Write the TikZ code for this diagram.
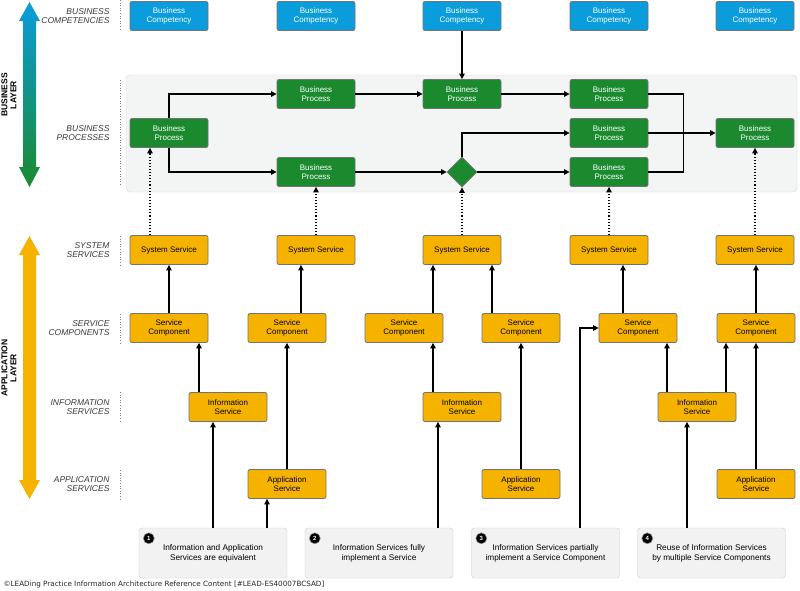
\documentclass[tikz,border=0pt]{standalone}
\usepackage{fontspec}
\setmainfont{Liberation Sans}
\newfontfamily\creditfont{DejaVu Sans}
\usetikzlibrary{arrows.meta,shapes.geometric}
\definecolor{compblue}{HTML}{0A9CDB}
\definecolor{procgreen}{HTML}{1B8A2F}
\definecolor{appyellow}{HTML}{F5B300}
\definecolor{panelgray}{HTML}{F3F4F4}
\definecolor{labelgray}{HTML}{3A3A3A}
\tikzset{
 box/.style={rectangle, rounded corners=2pt, draw=black!55, line width=0.8pt,
   minimum width=78pt, minimum height=29pt, inner sep=1pt, align=center,
   font=\fontsize{8}{9.5}\selectfont},
 compbox/.style={box, fill=compblue, text=white},
 procbox/.style={box, fill=procgreen, text=white},
 appbox/.style={box, fill=appyellow, text=black},
 gateway/.style={diamond, draw=black!55, line width=0.8pt, fill=procgreen,
   minimum width=30pt, minimum height=30pt, inner sep=0pt},
 note/.style={rectangle, rounded corners=3pt, draw=black!20, fill=black!5,
   minimum width=148pt, minimum height=50pt, align=center,
   font=\fontsize{8.25}{10}\selectfont},
 badge/.style={circle, fill=black, draw=black!40, line width=0.5pt, text=white,
   font=\bfseries\fontsize{6}{6}\selectfont, inner sep=0pt, minimum size=11pt},
 link/.style={line width=1.1pt, -{Triangle[length=5.5pt,width=5.5pt]}},
 dotlink/.style={link, dotted},
 rowlabel/.style={anchor=east, align=right, text=labelgray,
   font=\itshape\fontsize{8.5}{9.5}\selectfont},
 sep/.style={dotted, black!50, line width=0.6pt},
 layerlabel/.style={rotate=90, align=center, font=\bfseries\fontsize{8.5}{9}\selectfont}
}
\begin{document}
\begin{tikzpicture}[x=1pt,y=-1pt]
\fill[white] (0,0) rectangle (800,590);
\useasboundingbox (0,0) rectangle (800,590);
% layer arrows
\shade[top color=compblue, bottom color=procgreen] (29.5,2) -- (40,21) -- (36,21) -- (36,167)
 -- (40,167) -- (29.5,187) -- (19,167) -- (23,167) -- (23,21) -- (19,21) -- cycle;
\fill[appyellow] (29.5,236) -- (40,255) -- (36,255) -- (36,480)
 -- (40,480) -- (29.5,499) -- (19,480) -- (23,480) -- (23,255) -- (19,255) -- cycle;
\node[layerlabel] (buslayer) at (9,95) {BUSINESS\\LAYER};
\node[layerlabel] (applayer) at (9,368) {APPLICATION\\LAYER};
% row labels
\node[rowlabel] (lcomp) at (113,16) {BUSINESS\\COMPETENCIES};
\node[rowlabel] (lproc) at (113,133) {BUSINESS\\PROCESSES};
\node[rowlabel] (lsys) at (113,250) {SYSTEM\\SERVICES};
\node[rowlabel] (lcomps) at (113,328) {SERVICE\\COMPONENTS};
\node[rowlabel] (linfo) at (113,407) {INFORMATION\\SERVICES};
\node[rowlabel] (lapp) at (113,484) {APPLICATION\\SERVICES};
\foreach \ya/\yb in {0/30, 80/185, 236/265, 314/343, 392/422, 470/499}
  \draw[sep] (120,\ya) -- (120,\yb);
% business processes panel
\draw[rounded corners=4pt, draw=black!15, fill=panelgray] (126,75) rectangle (797,192);
% business competencies
\node[compbox] (bc1) at (169,16) {Business\\Competency};
\node[compbox] (bc2) at (316,16) {Business\\Competency};
\node[compbox] (bc3) at (462,16) {Business\\Competency};
\node[compbox] (bc4) at (609,16) {Business\\Competency};
\node[compbox] (bc5) at (755,16) {Business\\Competency};
% business processes
\node[procbox] (bp1) at (169,133) {Business\\Process};
\node[procbox] (bp2) at (316,94) {Business\\Process};
\node[procbox] (bp3) at (462,94) {Business\\Process};
\node[procbox] (bp4) at (609,94) {Business\\Process};
\node[procbox] (bp5) at (316,172) {Business\\Process};
\node[gateway] (gw) at (462,172) {};
\node[procbox] (bp6) at (609,133) {Business\\Process};
\node[procbox] (bp7) at (609,172) {Business\\Process};
\node[procbox] (bp8) at (755,133) {Business\\Process};
% system services
\node[appbox] (ss1) at (169,250) {System Service};
\node[appbox] (ss2) at (316,250) {System Service};
\node[appbox] (ss3) at (462,250) {System Service};
\node[appbox] (ss4) at (609,250) {System Service};
\node[appbox] (ss5) at (755,250) {System Service};
% service components
\node[appbox] (sc1) at (169,328) {Service\\Component};
\node[appbox] (sc2) at (287,328) {Service\\Component};
\node[appbox] (sc3) at (404,328) {Service\\Component};
\node[appbox] (sc4) at (521,328) {Service\\Component};
\node[appbox] (sc5) at (638,328) {Service\\Component};
\node[appbox] (sc6) at (756,328) {Service\\Component};
% information services
\node[appbox] (is1) at (228,407) {Information\\Service};
\node[appbox] (is2) at (462,407) {Information\\Service};
\node[appbox] (is3) at (697,407) {Information\\Service};
% application services
\node[appbox] (as1) at (287,484) {Application\\Service};
\node[appbox] (as2) at (521,484) {Application\\Service};
\node[appbox] (as3) at (756,484) {Application\\Service};
% notes
\node[note] (note1) at (213,553) {Information and Application\\Services are equivalent};
\node[note] (note2) at (379,553) {Information Services fully\\implement a Service};
\node[note] (note3) at (545.5,553) {Information Services partially\\implement a Service Component};
\node[note] (note4) at (711.5,553) {Reuse of Information Services\\by multiple Service Components};
\foreach \n in {1,...,4}
  \node[badge] (badge\n) at ([xshift=10pt,yshift=-10.5pt]note\n.north west) {\n};
\node[anchor=west, text=black!85, font=\creditfont\fontsize{7.2}{8}\selectfont] (credit) at (0,585)
 {©LEADing Practice Information Architecture Reference Content [\#LEAD-ES40007BCSAD]};
% process flow
\draw[link] (bc3) -- (bp3);
\draw[link] (bp1.north) |- (bp2.west);
\draw[link] (bp1.south) |- (bp5.west);
\draw[link] (bp2) -- (bp3);
\draw[link] (bp3) -- (bp4);
\draw[link] (bp5) -- (gw);
\draw[link] (gw.north) |- (bp6.west);
\draw[link] (gw) -- (bp7);
\draw[line width=1.1pt] (bp4.east) -| ([xshift=35pt]bp7.east) -- (bp7.east);
\draw[link] (bp6) -- (bp8);
% realisation
\draw[dotlink] ([xshift=-19pt]ss1.north) -- ([xshift=-19pt]ss1.north |- bp1.south);
\draw[dotlink] (ss2) -- (bp5);
\draw[dotlink] (ss3) -- (gw);
\draw[dotlink] (ss4) -- (bp7);
\draw[dotlink] (ss5) -- (bp8);
% application layer
\draw[link] (sc1) -- (ss1);
\draw[link] ([xshift=-29pt]is1.north) -- ([xshift=-29pt]is1.north |- sc1.south);
\draw[link] (as1) -- (sc2);
\draw[link] ([xshift=-15pt]ss2.south |- sc2.north) -- ([xshift=-15pt]ss2.south);
\draw[link] ([xshift=29pt]sc3.north) -- ([xshift=29pt]sc3.north |- ss3.south);
\draw[link] ([xshift=-29pt]sc4.north) -- ([xshift=-29pt]sc4.north |- ss3.south);
\draw[link] ([xshift=-29pt]is2.north) -- ([xshift=-29pt]is2.north |- sc3.south);
\draw[link] (as2) -- (sc4);
\draw[link] ([xshift=-15pt]sc5.north) -- ([xshift=-15pt]sc5.north |- ss4.south);
\draw[link] ([xshift=-30pt]is3.north) -- ([xshift=-30pt]is3.north |- sc5.south);
\draw[link] ([xshift=29pt]is3.north) -- ([xshift=29pt]is3.north |- sc6.south);
\draw[link] (as3) -- (sc6);
\draw[link] (sc6.north) -- (sc6.north |- ss5.south);
% notes to services
\draw[link] (note1.north) -- (note1.north |- is1.south);
\draw[link] ([xshift=-20pt]as1.south |- note1.north) -- ([xshift=-20pt]as1.south);
\draw[link] ([xshift=-24pt]is2.south |- note2.north) -- ([xshift=-24pt]is2.south);
\draw[link] ([xshift=34.5pt]note3.north) |- (sc5.west);
\draw[link] ([xshift=-10pt]is3.south |- note4.north) -- ([xshift=-10pt]is3.south);
\end{tikzpicture}
\end{document}
